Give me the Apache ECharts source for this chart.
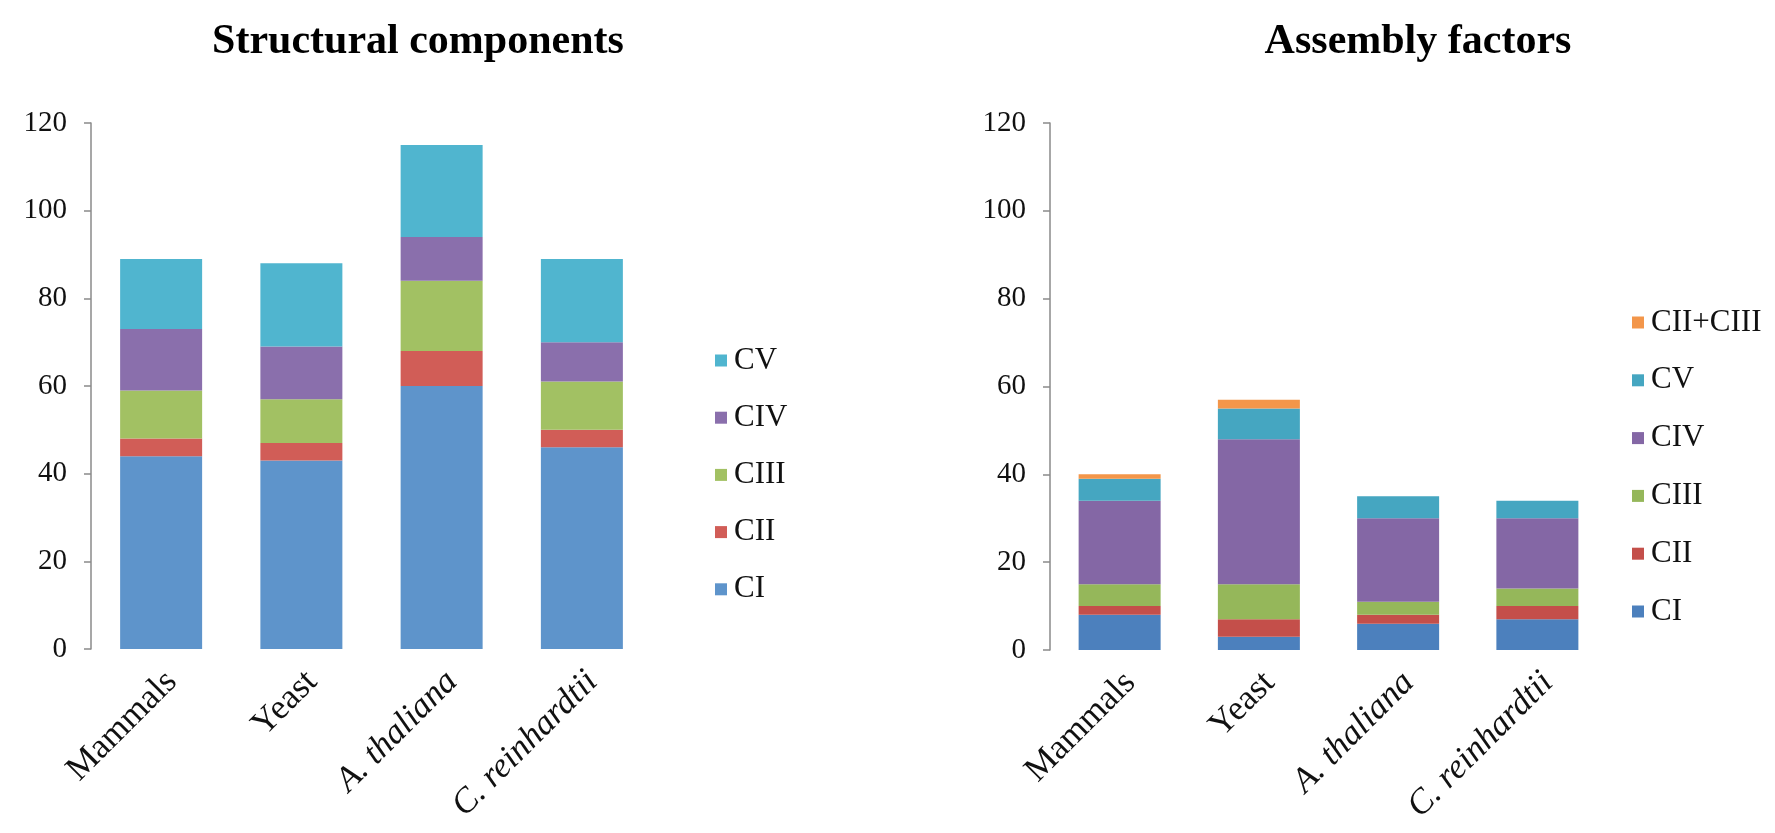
<!DOCTYPE html>
<html>
<head>
<meta charset="utf-8">
<script src="https://cdn.jsdelivr.net/npm/echarts@6/dist/echarts.min.js"></script>
<style>
html,body{margin:0;padding:0;background:#fff;}
#chart{width:1775px;height:833px;}
</style>
</head>
<body>
<div id="chart"></div>
<script>
// ---- Data ----
const categories = ['Mammals', 'Yeast', 'A. thaliana', 'C. reinhardtii'];
const italicCategories = ['A. thaliana', 'C. reinhardtii'];
const yTicks = [0, 20, 40, 60, 80, 100, 120];

// Structural components
const structCI   = [44, 43, 60, 46];
const structCII  = [4, 4, 8, 4];
const structCIII = [11, 10, 16, 11];
const structCIV  = [14, 12, 10, 9];
const structCV   = [16, 19, 21, 19];

// Assembly factors
const assemCI      = [8, 3, 6, 7];
const assemCII     = [2, 4, 2, 3];
const assemCIII    = [5, 8, 3, 4];
const assemCIV     = [19, 33, 19, 16];
const assemCV      = [5, 7, 5, 4];
const assemCIICIII = [1, 2, 0, 0];

const titles = ['Structural components', 'Assembly factors'];

// ---- Styles ----
const FONT = '"Liberation Serif", "Times New Roman", serif';
const leftColors  = {CI:'#5E94CB', CII:'#D15D57', CIII:'#A2C163', CIV:'#8A6FAC', CV:'#50B5CF'};
const rightColors = {CI:'#4C80BD', CII:'#C44F4A', CIII:'#95B75A', CIV:'#8467A5', CV:'#45A6C1', 'CII+CIII':'#F3964A'};

const catData = categories.map(c => ({
  value: c,
  textStyle: { fontStyle: italicCategories.includes(c) ? 'italic' : 'normal' }
}));

function xAxisCfg(gi) {
  return {
    type: 'category', gridIndex: gi, data: catData,
    axisLine: { show: false }, axisTick: { show: false },
    axisLabel: {
      rotate: 45, margin: 17, interval: 0,
      fontFamily: FONT, fontSize: 35, color: '#111', lineHeight: 40,
      formatter: v => '{sp|}\n' + v,
      rich: { sp: { height: 30, lineHeight: 30 } }
    }
  };
}
function yAxisCfg(gi) {
  return {
    type: 'value', gridIndex: gi, min: yTicks[0], max: yTicks[yTicks.length-1], interval: yTicks[1]-yTicks[0],
    splitLine: { show: false },
    axisLine: { show: true, lineStyle: { color: '#8a8a8a', width: 1.5 } },
    axisTick: { show: true, inside: false, length: 7, lineStyle: { color: '#8a8a8a', width: 1.5 } },
    axisLabel: { margin: 24, fontFamily: FONT, fontSize: 29, color: '#111' }
  };
}
function barSeries(name, data, gi, color, stack) {
  return {
    name, type: 'bar', stack, data, xAxisIndex: gi, yAxisIndex: gi,
    barWidth: 82, itemStyle: { color }, emphasis: { disabled: true }
  };
}

const series = [
  barSeries('CI', structCI, 0, leftColors.CI, 's'),
  barSeries('CII', structCII, 0, leftColors.CII, 's'),
  barSeries('CIII', structCIII, 0, leftColors.CIII, 's'),
  barSeries('CIV', structCIV, 0, leftColors.CIV, 's'),
  barSeries('CV', structCV, 0, leftColors.CV, 's'),
  barSeries('CI ', assemCI, 1, rightColors.CI, 'a'),
  barSeries('CII ', assemCII, 1, rightColors.CII, 'a'),
  barSeries('CIII ', assemCIII, 1, rightColors.CIII, 'a'),
  barSeries('CIV ', assemCIV, 1, rightColors.CIV, 'a'),
  barSeries('CV ', assemCV, 1, rightColors.CV, 'a'),
  barSeries('CII+CIII', assemCIICIII, 1, rightColors['CII+CIII'], 'a')
];

const legendText = { fontFamily: FONT, fontSize: 31, color: '#111', lineHeight: 31, padding: [8,0,0,2] };

const option = {
  backgroundColor: '#fff',
  animation: false,
  title: [
    { text: titles[0], left: 413, top: 16, textAlign: 'center',
      textStyle: { fontFamily: FONT, fontSize: 42, fontWeight: 'bold', color: '#000' } },
    { text: titles[1], left: 1413, top: 16, textAlign: 'center',
      textStyle: { fontFamily: FONT, fontSize: 42, fontWeight: 'bold', color: '#000' } }
  ],
  legend: [
    { orient: 'vertical', left: 710, top: 336, itemWidth: 12, itemHeight: 12, itemGap: 18.2,
      icon: 'rect', selectedMode: false, textStyle: legendText,
      data: ['CV','CIV','CIII','CII','CI'] },
    { orient: 'vertical', left: 1627, top: 298, itemWidth: 12, itemHeight: 12, itemGap: 18.8,
      icon: 'rect', selectedMode: false, textStyle: legendText,
      data: ['CII+CIII','CV ','CIV ','CIII ','CII ','CI '],
      formatter: n => n.trim() }
  ],
  grid: [
    { left: 91, top: 123, width: 561, height: 526 },
    { left: 1050, top: 123, width: 557, height: 527 }
  ],
  xAxis: [xAxisCfg(0), xAxisCfg(1)],
  yAxis: [yAxisCfg(0), yAxisCfg(1)],
  series
};

const chart = echarts.init(document.getElementById('chart'), null, { renderer: 'canvas' });
chart.setOption(option);
</script>
</body>
</html>
